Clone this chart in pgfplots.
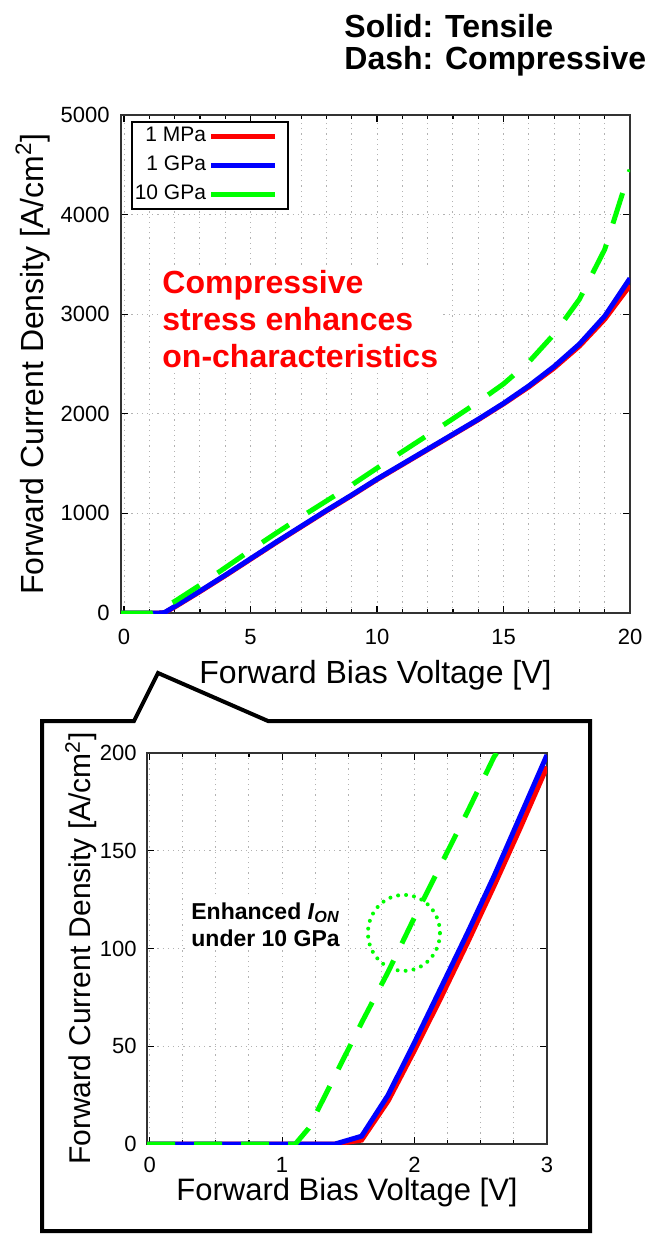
\documentclass[border=0pt]{standalone}
\usepackage{fontspec}
\setmainfont{Liberation Sans}
\usepackage{pgfplots}
\pgfplotsset{compat=1.18}
\definecolor{cR}{RGB}{255,0,0}
\definecolor{cB}{RGB}{0,0,255}
\definecolor{cG}{RGB}{0,255,0}
\pgfplotsset{
  mystyle/.style={
    scale only axis, anchor=south west,
    grid=both,
    major grid style={gray!60, line width=0.5pt, dash pattern=on 0.6pt off 2pt},
    minor grid style={gray!60, line width=0.5pt, dash pattern=on 0.6pt off 2pt},
    tick align=inside, major tick length=3.5pt, minor tick length=1.8pt,
    tick style={black, line width=0.6pt},
    axis line style={black!80, line width=0.6pt},
    ticklabel style={font=\fontsize{11}{11}\selectfont, inner sep=0pt},
    /pgf/number format/assume math mode=true,
    /pgf/number format/set thousands separator={},
    scaled y ticks=false,
    label style={inner sep=0pt},
    legend image code/.code={\draw[#1] (0pt,0pt) -- (32pt,0pt); \path (37pt,0pt);},
  }
}
\begin{document}
\begin{tikzpicture}
\path (0pt,0pt) rectangle (328pt,-617pt);
\node[anchor=base west, inner sep=0pt, font=\fontsize{16}{16}\bfseries\selectfont] at (172pt,-19pt) {Solid: Tensile};
\node[anchor=base west, inner sep=0pt, font=\fontsize{16}{16}\bfseries\selectfont] at (172pt,-35pt) {Dash: Compressive};

\begin{axis}[mystyle,
  at={(60.5pt,-306.5pt)}, width=254.5pt, height=249pt,
  xmin=-0.12, xmax=20, ymin=0, ymax=5000,
  xtick={0,5,10,15,20}, minor xtick={1,2,3,4,6,7,8,9,11,12,13,14,16,17,18,19},
  ytick={0,1000,2000,3000,4000,5000},
  xticklabel shift=8pt, yticklabel shift=5.5pt,
  xlabel={Forward Bias Voltage [V]},
  ylabel={Forward Current Density [A/cm\textsuperscript{2}]},
  label style={font=\fontsize{16}{16}\selectfont},
  xlabel style={at={(axis description cs:0.5,-0.094)}, anchor=north},
  ylabel style={at={(axis description cs:-0.173,0.5)}, anchor=center},
  legend style={at={(axis description cs:0.0196,0.988)}, anchor=north west,
    draw=black, line width=0.8pt, fill=white,
    font=\fontsize{10.5}{10.5}\selectfont,
    inner xsep=0pt, inner ysep=1pt, row sep=2pt,
    nodes={inner sep=1.5pt, text height=7.5pt, text depth=2pt},
    cells={anchor=east}},
  legend plot pos=right,
]
\addlegendimage{cR, line width=2.5pt}\addlegendentry{1 MPa}
\addlegendimage{cB, line width=2.5pt}\addlegendentry{1 GPa}
\addlegendimage{cG, line width=2.5pt}\addlegendentry{10 GPa}
\addplot[cR, line width=2.5pt, forget plot] coordinates {
(-0.12,0) (1.4,0) (1.6,3) (2,60) (3,215) (4,375) (5,540) (6,705) (7,865) (8,1025) (9,1180) (10,1340) (11,1490) (12,1640) (13,1790) (14,1940) (15,2100) (16,2270) (17,2460) (18,2680) (19,2950) (20,3290)};
\addplot[cB, line width=2.5pt, forget plot] coordinates {
(-0.12,0) (1.4,0) (1.6,4) (2,65) (3,220) (4,380) (5,545) (6,710) (7,870) (8,1030) (9,1185) (10,1345) (11,1495) (12,1645) (13,1795) (14,1945) (15,2105) (16,2280) (17,2475) (18,2700) (19,2980) (20,3360)};
\addplot[cG, line width=2.5pt, dash pattern=on 16pt off 11pt, forget plot] coordinates {
(-0.12,0) (1.1,0) (1.2,8) (1.6,62) (2,116) (3,280) (4,455) (5,630) (6,800) (7,965) (8,1125) (9,1285) (10,1455) (11,1620) (12,1785) (13,1950) (14,2120) (15,2300) (16,2520) (17,2800) (18,3150) (19,3650) (20,4450)};
\end{axis}

\node[anchor=base west, inner sep=2pt, fill=white, align=left, text=cR, font=\fontsize{16}{18.5}\bfseries\selectfont] at (79pt,-184pt) {Compressive\\stress enhances\\on-characteristics};

\draw[line width=2pt, line join=miter] (21pt,-360.5pt) -- (67pt,-360.5pt) -- (79pt,-336.5pt) -- (134pt,-360.5pt) -- (295pt,-360.5pt) -- (295pt,-615.5pt) -- (21pt,-615.5pt) -- cycle;

\begin{axis}[mystyle,
  at={(73.5pt,-572pt)}, width=200pt, height=195.5pt,
  xmin=-0.02, xmax=3, ymin=0, ymax=200,
  xtick={0,1,2,3}, minor x tick num=3,
  ytick={0,50,100,150,200},
  xticklabel shift=6.5pt, yticklabel shift=5pt,
  xlabel={Forward Bias Voltage [V]},
  ylabel={Forward Current Density [A/cm\textsuperscript{2}]},
  label style={font=\fontsize{15}{15}\selectfont},
  xlabel style={at={(axis description cs:0.5,-0.087)}, anchor=north, font=\fontsize{15.5}{15.5}\selectfont},
  ylabel style={at={(axis description cs:-0.165,0.5)}, anchor=center},
]
\addplot[cR, line width=2.5pt] coordinates {
(-0.02,0) (1.4,0) (1.6,2) (1.8,22) (2.0,48) (2.2,75) (2.4,103) (2.6,132) (2.8,162) (3.0,193)};
\addplot[cB, line width=2.5pt] coordinates {
(-0.02,0) (1.4,0) (1.6,4) (1.8,25) (2.0,52) (2.2,80) (2.4,108) (2.6,137) (2.8,168) (3.0,199)};
\addplot[cG, line width=2.5pt, dash pattern=on 14pt off 9.5pt] coordinates {
(-0.02,0) (1.1,0) (1.2,8) (1.4,35) (1.6,62) (1.8,88) (2.0,116) (2.2,143) (2.4,170) (2.6,198) (2.62,200)};
\draw[cG, line width=2pt, line cap=round, dash pattern=on 0pt off 4pt] (axis cs:1.92,108) ellipse [x radius=18pt, y radius=19pt];
\end{axis}

\node[anchor=base west, inner sep=2pt, fill=white, align=left, font=\fontsize{11.5}{13.5}\bfseries\selectfont] at (93.5pt,-473pt) {Enhanced \textit{I}\textsubscript{\textit{ON}}\\under 10 GPa};
\end{tikzpicture}
\end{document}
